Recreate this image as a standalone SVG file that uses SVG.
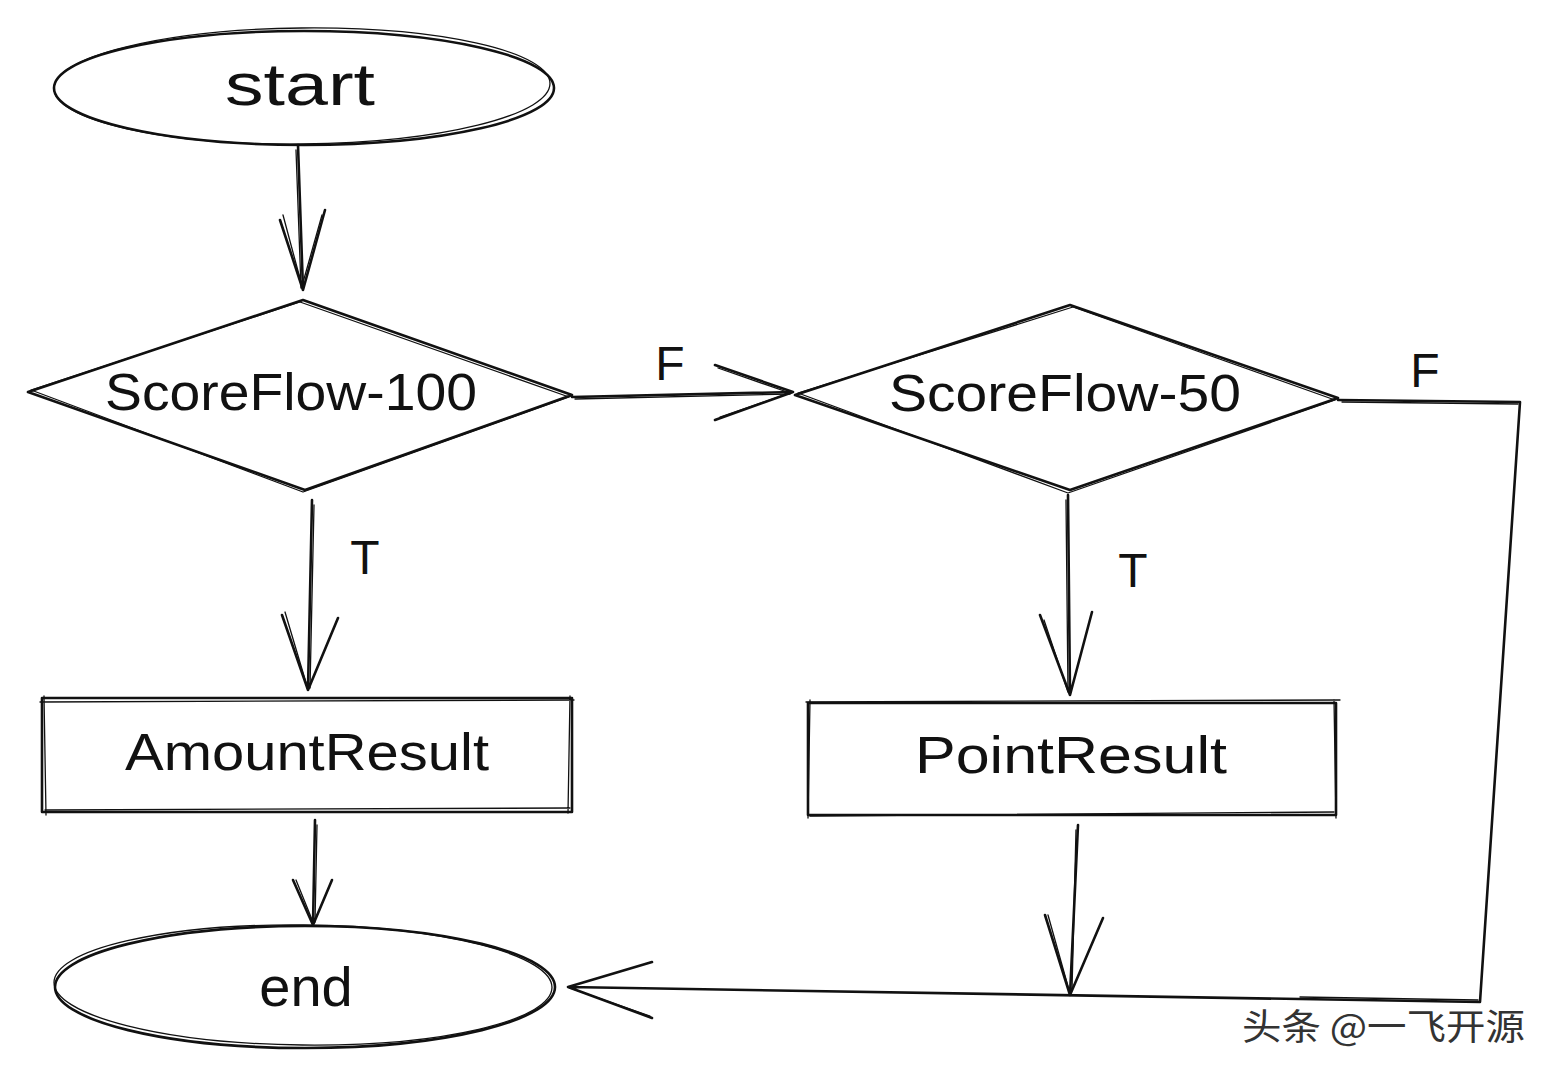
<svg xmlns="http://www.w3.org/2000/svg" width="1558" height="1078" viewBox="0 0 1558 1078">
<style>
.s{fill:none;stroke:#111;stroke-width:2.6;stroke-linecap:round;stroke-linejoin:round}
.t{stroke-width:1.3}
.lbl{font-family:"Liberation Sans","DejaVu Sans",sans-serif;fill:#111;text-anchor:middle;dominant-baseline:central}
.n{font-size:52px}
.wm{font-family:"Noto Sans CJK SC","Noto Sans",sans-serif;font-size:36px;fill:#333;stroke:#fff;stroke-width:1;paint-order:stroke}
</style>
<rect width="1558" height="1078" fill="#fff"/>
<g id="start">
<ellipse class="s" cx="304" cy="88" rx="250" ry="57"/>
<ellipse class="s t" cx="302" cy="86" rx="248" ry="58" transform="rotate(-0.6 302 86)"/>
<text class="lbl n" x="300" y="84" style="font-size:60px" textLength="150" lengthAdjust="spacingAndGlyphs">start</text>
</g>
<g id="d1">
<path class="s" d="M303 300 L572 395 L305 490 L28 392 Z"/>
<path class="s t" d="M300 302 L569 397 L303 492 L31 390 Z"/>
<text class="lbl n" x="291" y="392" textLength="372" lengthAdjust="spacingAndGlyphs">ScoreFlow-100</text>
</g>
<g id="d2">
<path class="s" d="M1070 305 L1338 398 L1070 490 L795 395 Z"/>
<path class="s t" d="M1073 307 L1335 400 L1068 493 L798 393 Z"/>
<text class="lbl n" x="1065" y="393" textLength="352" lengthAdjust="spacingAndGlyphs">ScoreFlow-50</text>
</g>
<g id="amount">
<rect class="s" x="42" y="698" width="530" height="114"/>
<path class="s t" d="M40 702 L574 700 M45 810 L570 808 M44 696 L46 815 M570 696 L568 813"/>
<text class="lbl n" x="307" y="752" textLength="364" lengthAdjust="spacingAndGlyphs">AmountResult</text>
</g>
<g id="point">
<rect class="s" x="808" y="703" width="528" height="112"/>
<path class="s t" d="M806 702 L1340 700 M810 816 L1334 812 M810 700 L808 818 M1334 700 L1336 818"/>
<text class="lbl n" x="1071" y="755" textLength="312" lengthAdjust="spacingAndGlyphs">PointResult</text>
</g>
<g id="end">
<ellipse class="s" cx="305" cy="987" rx="250" ry="61"/>
<ellipse class="s t" cx="303" cy="985" rx="249" ry="60" transform="rotate(0.6 303 985)"/>
<text class="lbl n" x="306" y="986" style="font-size:56px">end</text>
</g>
<g id="connectors">
<path class="s" d="M298 145 L303 290 M280 220 L303 290 L325 210"/>
<path class="s t" d="M296 150 L301 288 M283 215 L302 286 L322 215"/>
<path class="s" d="M572 397 L793 392 M715 365 L793 392 L715 420"/>
<path class="s t" d="M575 399 L790 394 M718 368 L790 393 L720 417"/>
<path class="s" d="M312 500 L308 690 M282 615 L308 690 L338 618"/>
<path class="s t" d="M314 505 L310 688 M285 612 L307 686"/>
<path class="s" d="M1068 495 L1070 695 M1040 615 L1070 695 L1092 612"/>
<path class="s t" d="M1066 500 L1068 692 M1044 620 L1068 692"/>
<path class="s" d="M315 820 L313 925 M293 880 L313 925 L332 880"/>
<path class="s t" d="M317 825 L315 922 M296 880 L313 922"/>
<path class="s" d="M1078 825 L1070 995 M1045 915 L1070 995 L1103 918"/>
<path class="s t" d="M1076 830 L1072 990 M1048 915 L1069 990"/>
<path class="s" d="M1338 400 L1520 402 L1480 1002 L568 987 M652 962 L568 987 L652 1018"/>
<path class="s t" d="M1342 402 L1518 404 M1478 1000 L1300 997 M570 988 L650 1016"/>
<text class="lbl n" x="670" y="363" style="font-size:48px">F</text>
<text class="lbl n" x="1425" y="370" style="font-size:48px">F</text>
<text class="lbl n" x="365" y="557" style="font-size:48px">T</text>
<text class="lbl n" x="1133" y="570" style="font-size:48px">T</text>
</g>
<text class="wm" x="1242" y="1040" textLength="283" lengthAdjust="spacingAndGlyphs">头条 @一飞开源</text>
</svg>
